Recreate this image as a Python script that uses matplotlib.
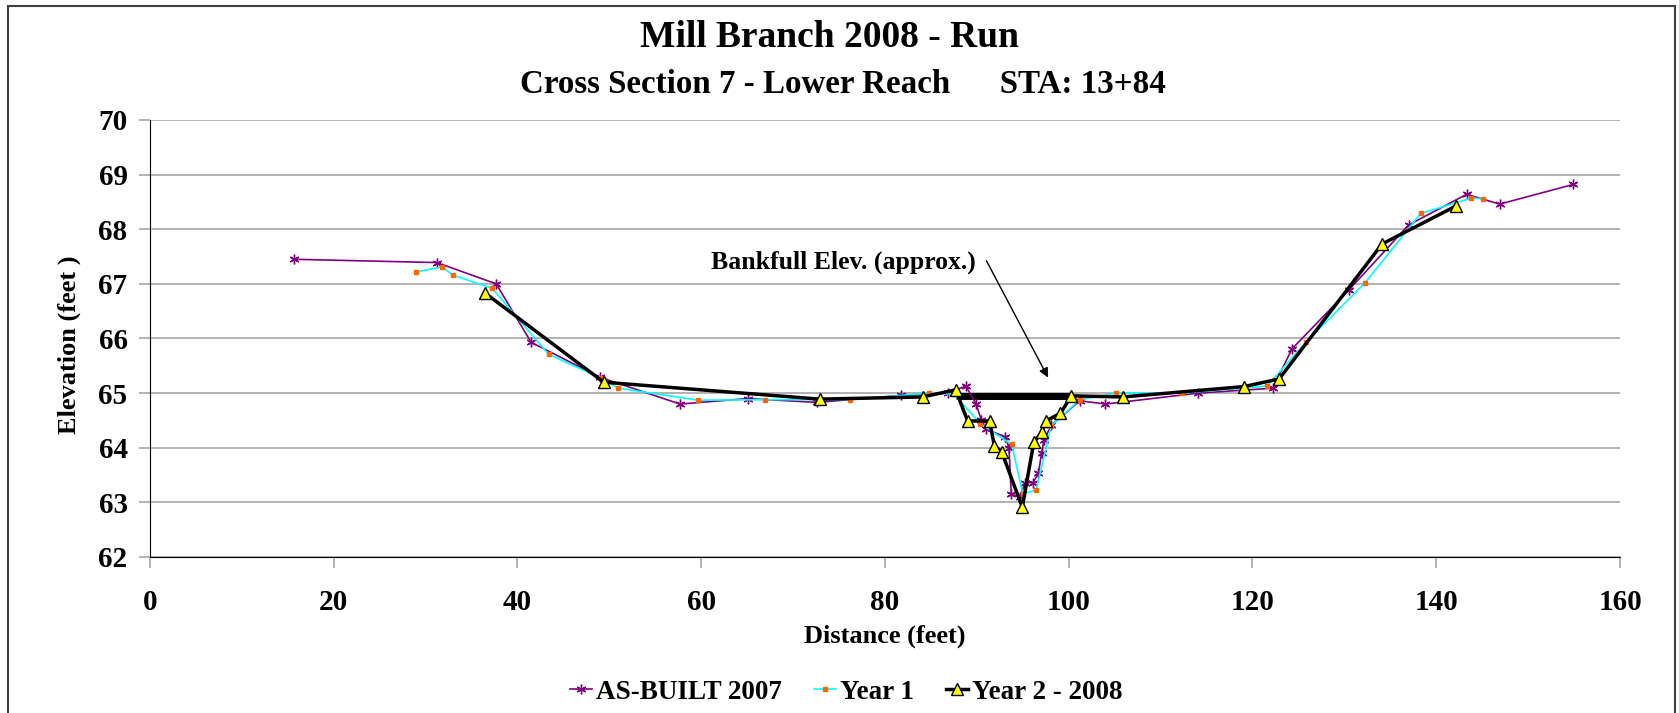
import matplotlib
matplotlib.use("Agg")
import matplotlib.pyplot as plt
from matplotlib.patches import Rectangle

plt.rcParams['font.family'] = ['Liberation Serif', 'DejaVu Serif']
plt.rcParams['font.weight'] = 'bold'

# survey points: distance (ft), elevation (ft)
asbuilt_x = [15.7, 31.25, 37.7, 41.5, 49.0, 57.7, 65.07, 72.6, 81.8, 86.9, 88.8, 89.9,
             90.5, 91.0, 93.1, 93.5, 93.75, 94.7, 95.25, 96.1, 96.7, 97.05, 97.3, 98.1,
             101.2, 104.0, 114.1, 122.2, 124.3, 130.5, 137.0, 143.3, 146.9, 154.9]
asbuilt_y = [67.45, 67.39, 67.0, 65.93, 65.29, 64.80, 64.90, 64.83, 64.96, 65.0, 65.13, 64.81,
             64.51, 64.34, 64.20, 64.0, 63.15, 63.10, 63.36, 63.36, 63.53, 63.90, 64.14, 64.41,
             64.86, 64.80, 65.0, 65.09, 65.81, 66.89, 68.08, 68.64, 68.46, 68.82]

year1_x = [29.0, 31.8, 33.0, 37.25, 43.4, 49.0, 51.0, 59.7, 67.0, 76.2, 84.8, 87.5,
           90.4, 93.8, 95.0, 96.45, 98.1, 101.2, 105.2, 112.3, 121.6, 125.8, 132.2,
           138.3, 143.8, 145.1]
year1_y = [67.22, 67.31, 67.16, 66.92, 65.71, 65.28, 65.09, 64.87, 64.88, 64.88, 65.0, 64.98,
           64.44, 64.06, 63.16, 63.22, 64.40, 64.88, 65.0, 65.0, 65.13, 65.93, 67.01,
           68.29, 68.57, 68.56]

year2_x = [36.5, 49.4, 72.9, 84.1, 87.7, 89.0, 91.4, 91.9, 92.7, 94.95, 96.2, 97.1,
           97.5, 99.1, 100.3, 105.9, 119.1, 122.9, 134.1, 142.2]
year2_y = [66.83, 65.2, 64.89, 64.93, 65.06, 64.49, 64.49, 64.04, 63.93, 62.91, 64.10, 64.29,
           64.49, 64.63, 64.95, 64.93, 65.12, 65.26, 67.73, 68.43]

bankfull_x = [87.7, 100.3]
bankfull_y = [64.95, 64.95]

fig = plt.figure(figsize=(16.79, 7.13), dpi=100)
fig.patches.append(Rectangle((0.005, -0.01), 0.9925, 1.0015, transform=fig.transFigure,
                             fill=False, edgecolor='#404040', linewidth=1.5))

ax = fig.add_axes([0.0892, 0.2188, 0.8757, 0.6129])

ax.plot(bankfull_x, bankfull_y, color='black', linewidth=5, solid_capstyle='butt', zorder=2)
ax.plot(asbuilt_x, asbuilt_y, color='#800080', linewidth=1.2, marker=(6, 2, 0),
        markersize=7, markeredgewidth=1.0, label='AS-BUILT 2007', zorder=3)
ax.plot(year1_x, year1_y, color='#00ffff', linewidth=1.2, marker='s', markersize=3,
        markerfacecolor='#ff6600', markeredgecolor='#ff6600', label='Year 1', zorder=4)
ax.plot(year2_x, year2_y, color='black', linewidth=2.5, marker='^', markersize=9,
        markerfacecolor='#ffff00', markeredgecolor='black', markeredgewidth=1.0,
        label='Year 2 - 2008', zorder=5)

ax.annotate('', xy=(97.9, 65.24), xytext=(90.9, 67.47),
            arrowprops=dict(arrowstyle='-|>', color='black', linewidth=1.0, mutation_scale=14))
ax.text(61.1, 67.4, 'Bankfull Elev. (approx.)', fontsize=18.5, fontweight='bold',
        ha='left', va='center')

ax.set_xlim(0, 160)
ax.set_ylim(62, 70)
ax.set_xticks(range(0, 161, 20))
ax.set_yticks(range(62, 71))
ax.grid(axis='y', color='#a6a6a6', linewidth=1.2)
ax.set_axisbelow(True)
for side in ('top', 'right'):
    ax.spines[side].set_visible(False)
ax.spines['left'].set_color('black')
ax.spines['bottom'].set_color('black')
ax.tick_params(axis='both', length=8, color='#a6a6a6', width=1.2, labelsize=21)
ax.tick_params(axis='x', pad=15)
ax.tick_params(axis='y', pad=8)
for lbl in ax.get_xticklabels() + ax.get_yticklabels():
    lbl.set_fontweight('bold')

ax.set_xlabel('Distance (feet)', fontsize=19, fontweight='bold', labelpad=6)
fig.text(0.041, 0.517, 'Elevation (feet )', rotation=90, fontsize=19, fontweight='bold',
         ha='center', va='center')

fig.text(0.494, 0.947, 'Mill Branch 2008 - Run', fontsize=27, fontweight='bold',
         ha='center', va='center')
fig.text(0.502, 0.882, 'Cross Section 7 - Lower Reach      STA: 13+84', fontsize=23.8,
         fontweight='bold', ha='center', va='center')

fig.legend(loc='center', bbox_to_anchor=(0.504, 0.029), ncol=3, frameon=False,
           handlelength=0.8, handletextpad=0.15, columnspacing=1.2,
           prop={'weight': 'bold', 'size': 19.5})

fig.savefig('out.png', dpi=100)
